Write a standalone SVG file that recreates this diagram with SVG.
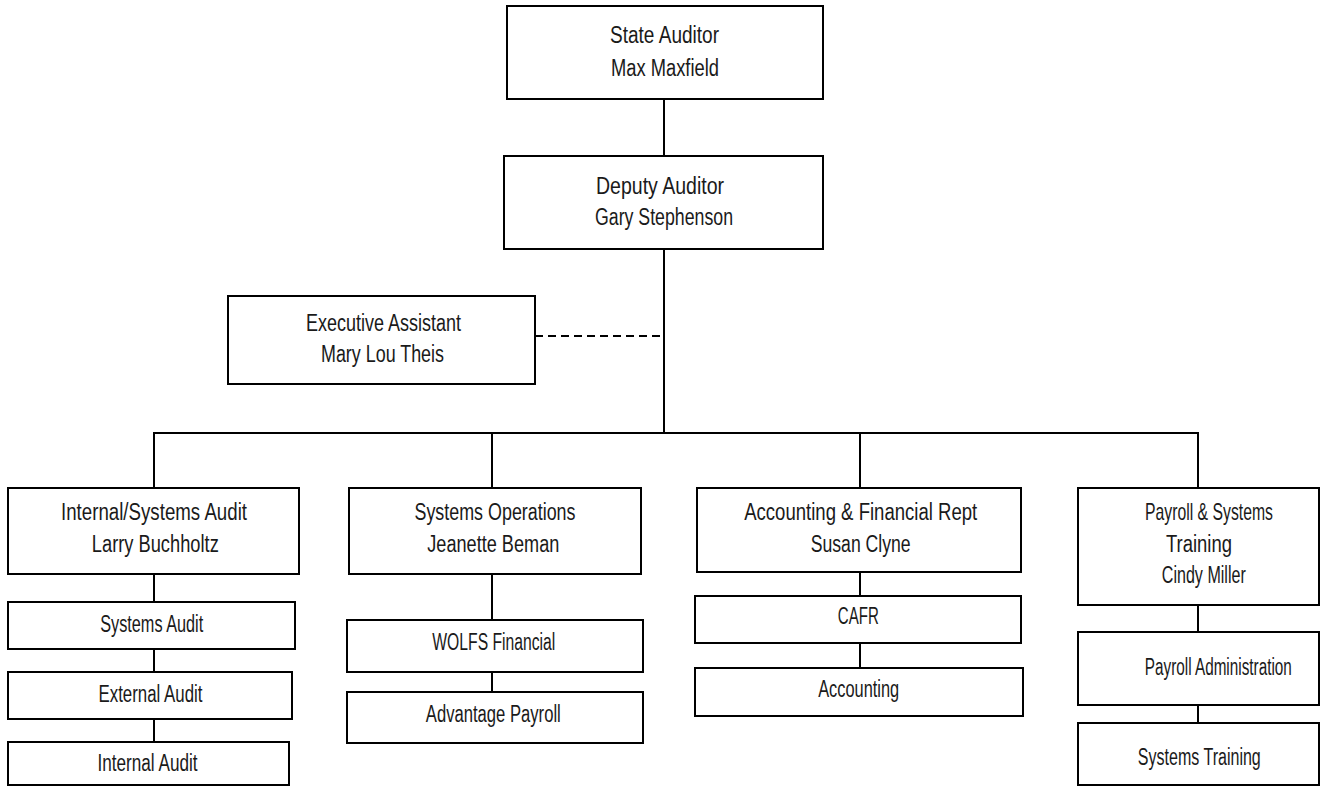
<svg xmlns="http://www.w3.org/2000/svg" width="1320" height="786" viewBox="0 0 1320 786">
  <style>
    .box { fill: #ffffff; stroke: #000000; stroke-width: 2; }
    .link { fill: none; stroke: #000000; stroke-width: 2; }
    .dotted { stroke-dasharray: 8 5; }
    text { font-family: "Liberation Sans", Arial, sans-serif; font-size: 23px; fill: #1a1a1a; text-anchor: middle; }
  </style>
  <rect width="1320" height="786" fill="#ffffff"/>

  <!-- reporting lines -->
  <g id="connectors">
    <line class="link" x1="664" y1="99" x2="664" y2="156"/>
    <line class="link" x1="664" y1="249" x2="664" y2="433"/>
    <line class="link dotted" x1="535" y1="336" x2="664" y2="336"/>
    <line class="link" x1="153" y1="433" x2="1199" y2="433"/>
    <line class="link" x1="154" y1="433" x2="154" y2="488"/>
    <line class="link" x1="492" y1="433" x2="492" y2="488"/>
    <line class="link" x1="860" y1="433" x2="860" y2="488"/>
    <line class="link" x1="1198" y1="433" x2="1198" y2="488"/>
    <line class="link" x1="154" y1="574" x2="154" y2="602"/>
    <line class="link" x1="154" y1="649" x2="154" y2="672"/>
    <line class="link" x1="154" y1="719" x2="154" y2="742"/>
    <line class="link" x1="492" y1="574" x2="492" y2="620"/>
    <line class="link" x1="492" y1="672" x2="492" y2="692"/>
    <line class="link" x1="860" y1="572" x2="860" y2="596"/>
    <line class="link" x1="860" y1="643" x2="860" y2="668"/>
    <line class="link" x1="1198" y1="605" x2="1198" y2="632"/>
    <line class="link" x1="1198" y1="705" x2="1198" y2="723"/>
  </g>

  <!-- text widths are fixed so the lettering reads as a condensed face -->
  <g id="state-auditor">
    <rect class="box" x="507" y="6" width="316" height="93"/>
    <text x="664.5" y="43" textLength="109" lengthAdjust="spacingAndGlyphs">State Auditor</text>
    <text x="665" y="76" textLength="108" lengthAdjust="spacingAndGlyphs">Max Maxfield</text>
  </g>

  <g id="deputy-auditor">
    <rect class="box" x="504" y="156" width="319" height="93"/>
    <text x="660" y="194" textLength="128" lengthAdjust="spacingAndGlyphs">Deputy Auditor</text>
    <text x="664" y="225" textLength="138" lengthAdjust="spacingAndGlyphs">Gary Stephenson</text>
  </g>

  <g id="executive-assistant">
    <rect class="box" x="228" y="296" width="307" height="88"/>
    <text x="383.5" y="331" textLength="155" lengthAdjust="spacingAndGlyphs">Executive Assistant</text>
    <text x="382.5" y="362" textLength="123" lengthAdjust="spacingAndGlyphs">Mary Lou Theis</text>
  </g>

  <g id="internal-systems-audit">
    <rect class="box" x="8" y="488" width="291" height="86"/>
    <text x="154" y="520" textLength="186" lengthAdjust="spacingAndGlyphs">Internal/Systems Audit</text>
    <text x="155.3" y="552" textLength="127" lengthAdjust="spacingAndGlyphs">Larry Buchholtz</text>
  </g>
  <g id="systems-audit">
    <rect class="box" x="8" y="602" width="287" height="47"/>
    <text x="151.7" y="632" textLength="103" lengthAdjust="spacingAndGlyphs">Systems Audit</text>
  </g>
  <g id="external-audit">
    <rect class="box" x="8" y="672" width="284" height="47"/>
    <text x="150.5" y="702" textLength="104" lengthAdjust="spacingAndGlyphs">External Audit</text>
  </g>
  <g id="internal-audit">
    <rect class="box" x="8" y="742" width="281" height="43"/>
    <text x="147.5" y="771" textLength="100" lengthAdjust="spacingAndGlyphs">Internal Audit</text>
  </g>

  <g id="systems-operations">
    <rect class="box" x="349" y="488" width="292" height="86"/>
    <text x="495" y="520" textLength="161" lengthAdjust="spacingAndGlyphs">Systems Operations</text>
    <text x="493.3" y="552" textLength="132" lengthAdjust="spacingAndGlyphs">Jeanette Beman</text>
  </g>
  <g id="wolfs-financial">
    <rect class="box" x="347" y="620" width="296" height="52"/>
    <text x="493.8" y="650" textLength="123" lengthAdjust="spacingAndGlyphs">WOLFS Financial</text>
  </g>
  <g id="advantage-payroll">
    <rect class="box" x="347" y="692" width="296" height="51"/>
    <text x="493.3" y="722" textLength="135" lengthAdjust="spacingAndGlyphs">Advantage Payroll</text>
  </g>

  <g id="accounting-financial-rept">
    <rect class="box" x="697" y="488" width="324" height="84"/>
    <text x="860.7" y="520" textLength="233" lengthAdjust="spacingAndGlyphs">Accounting &amp; Financial Rept</text>
    <text x="860.7" y="552" textLength="100" lengthAdjust="spacingAndGlyphs">Susan Clyne</text>
  </g>
  <g id="cafr">
    <rect class="box" x="695" y="596" width="326" height="47"/>
    <text x="858.3" y="624" textLength="41" lengthAdjust="spacingAndGlyphs">CAFR</text>
  </g>
  <g id="accounting">
    <rect class="box" x="695" y="668" width="328" height="48"/>
    <text x="858.7" y="697" textLength="81" lengthAdjust="spacingAndGlyphs">Accounting</text>
  </g>

  <g id="payroll-systems-training">
    <rect class="box" x="1078" y="488" width="241" height="117"/>
    <text transform="translate(1209 520) scale(0.686 1)" x="0" y="0">Payroll &amp; Systems</text>
    <text x="1199" y="552" textLength="66" lengthAdjust="spacingAndGlyphs">Training</text>
    <text x="1203.8" y="583" textLength="84" lengthAdjust="spacingAndGlyphs">Cindy Miller</text>
  </g>
  <g id="payroll-administration">
    <rect class="box" x="1078" y="632" width="241" height="73"/>
    <text transform="translate(1218.3 675) scale(0.6655 1)" x="0" y="0">Payroll Administration</text>
  </g>
  <g id="systems-training">
    <rect class="box" x="1078" y="723" width="241" height="62"/>
    <text x="1199.3" y="765" textLength="123" lengthAdjust="spacingAndGlyphs">Systems Training</text>
  </g>
</svg>
